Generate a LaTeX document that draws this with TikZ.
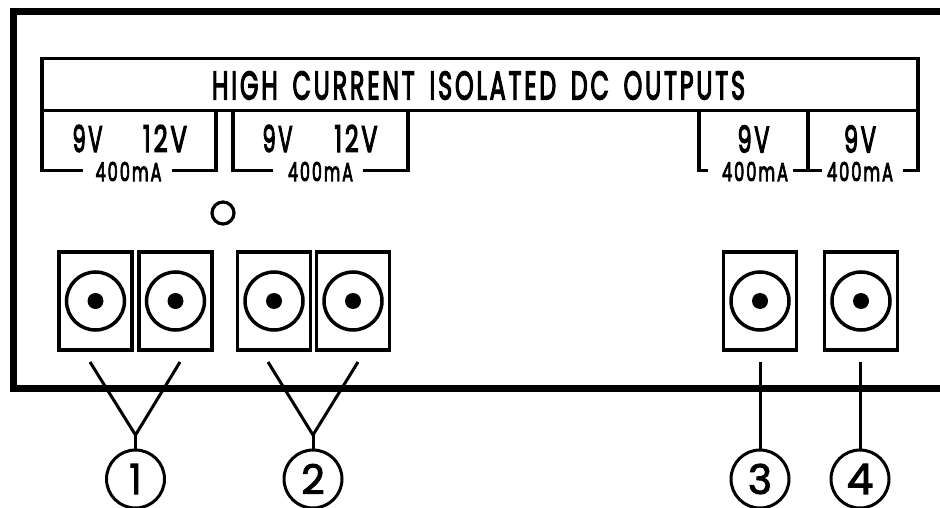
\documentclass[tikz,border=0pt]{standalone}
\usepackage{fontspec}
\usepackage{graphicx}
\setmainfont{Poppins}
\newfontfamily\labf{Poppins}[LetterSpace=12,FakeBold=4,WordSpace=1.6]
\newfontfamily\numf{Poppins}[FakeBold=2.5]
\newcommand\fitbox[3]{\resizebox{#1pt}{#2pt}{#3}}
\begin{document}
\begin{tikzpicture}[x=1pt,y=-1pt,
  panel/.style={line width=7pt,line join=miter},
  frame/.style={line width=3.5pt,line join=miter},
  lbl/.style={inner sep=0pt,outer sep=0pt,font=\labf},
  jack/.style={draw,line width=3.5pt,minimum width=73pt,minimum height=98pt,inner sep=0pt,outer sep=0pt},
  num/.style={draw,circle,line width=3pt,minimum size=58pt,inner sep=0pt,outer sep=0pt,font=\numf},
  wire/.style={line width=3pt}]
\useasboundingbox (0,0) rectangle (940,508);
% panel outline
\draw[panel] (945,11.5) -- (13,11.5) -- (13,388.5) -- (945,388.5);
% header
\draw[frame] (42,58.5) rectangle (918,110.5);
\node[lbl] (title) at (478.5,85.5) {\fitbox{533}{28}{HIGH CURRENT ISOLATED DC OUTPUTS}};
% group brackets
\draw[frame] (42,110.5) -- (42,170.5) -- (83,170.5);
\draw[frame] (172,170.5) -- (216,170.5) -- (216,110.5);
\draw[frame] (233,110.5) -- (233,170.5) -- (273,170.5);
\draw[frame] (363,170.5) -- (408,170.5) -- (408,110.5);
\draw[frame] (699,110.5) -- (699,170.5) -- (708,170.5);
\draw[frame] (793,170.5) -- (822,170.5);
\draw[frame] (808,110.5) -- (808,170.5);
\draw[frame] (903,170.5) -- (918,170.5) -- (918,110.5);
% voltage labels
\node[lbl] (v1) at (87.5,138.5) {\fitbox{30}{27}{9V}};
\node[lbl] (v2) at (165,138.5) {\fitbox{44}{27}{12V}};
\node[lbl] (v3) at (277.5,138.5) {\fitbox{30}{27}{9V}};
\node[lbl] (v4) at (356,138.5) {\fitbox{43}{27}{12V}};
\node[lbl] (v5) at (753.5,139) {\fitbox{32}{27}{9V}};
\node[lbl] (v6) at (860,139) {\fitbox{32}{27}{9V}};
\node[lbl] (c1) at (128.5,171.5) {\fitbox{66}{19}{400mA}};
\node[lbl] (c2) at (320.5,171.5) {\fitbox{65}{19}{400mA}};
\node[lbl] (c3) at (755,171.5) {\fitbox{66}{19}{400mA}};
\node[lbl] (c4) at (860,171.5) {\fitbox{66}{19}{400mA}};
% LED
\draw[line width=3.2pt] (223,213) circle[radius=11pt];
% jacks
\foreach \n/\x in {1/95.5,2/175.5,3/274,4/353,5/760,6/861}{
  \node[jack] (j\n) at (\x,301) {};
  \draw[line width=3.5pt] (j\n.center) circle[radius=29pt];
  \fill (j\n.center) circle[radius=8pt];
}
% number circles
\node[num] (n1) at (135.5,479) {\fitbox{12}{30}{1}};
\node[num] (n2) at (313,479) {\resizebox{!}{30pt}{2}};
\node[num] (n3) at (760,479) {\resizebox{!}{30pt}{3}};
\node[num] (n4) at (860,479) {\resizebox{!}{30pt}{4}};
% connectors
\coordinate (a1) at (90,362);
\coordinate (b1) at (180,362);
\coordinate (k1) at (135.5,435);
\coordinate (a2) at (268,362);
\coordinate (b2) at (358,362);
\coordinate (k2) at (313,435);
\coordinate (a3) at (760,362);
\coordinate (a4) at (860,362);
\draw[wire] (a1) -- (k1) -- (b1);
\draw[wire] (k1) -- (n1.north);
\draw[wire] (a2) -- (k2) -- (b2);
\draw[wire] (k2) -- (n2.north);
\draw[wire] (a3) -- (n3.north);
\draw[wire] (a4) -- (n4.north);
\end{tikzpicture}
\end{document}
